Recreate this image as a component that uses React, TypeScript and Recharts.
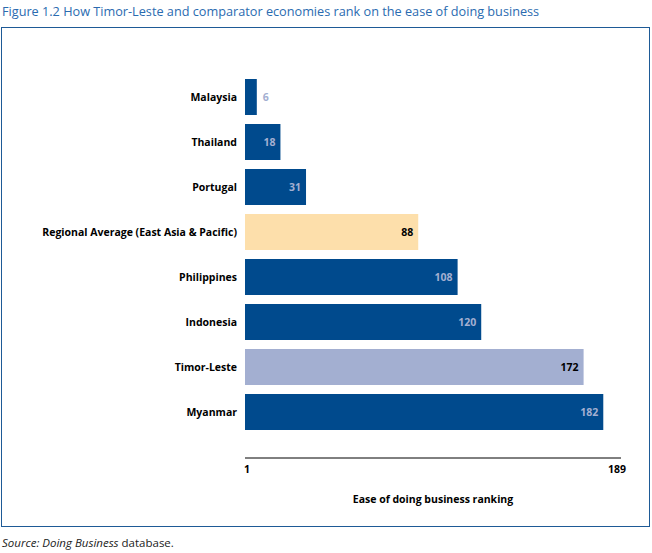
import { BarChart, Bar, XAxis, YAxis, Cell, LabelList } from 'recharts';

const countries = [
  'Malaysia',
  'Thailand',
  'Portugal',
  'Regional Average (East Asia & Pacific)',
  'Philippines',
  'Indonesia',
  'Timor-Leste',
  'Myanmar',
];
const rankings = [6, 18, 31, 88, 108, 120, 172, 182];
const barColors = ['#004a8d', '#004a8d', '#004a8d', '#fddfab', '#004a8d', '#004a8d', '#a3afd1', '#004a8d'];
const labelColors = ['#a3afd1', '#a3afd1', '#a3afd1', '#000000', '#a3afd1', '#a3afd1', '#000000', '#a3afd1'];
const xTicks = [1, 189];

const chartData = countries.map((name, i) => ({ name, rank: rankings[i] }));

const FONT = '"Open Sans", "DejaVu Sans", sans-serif';

// value label sits inside the bar end, or just outside when the bar is too short
const renderValue = (props: any) => {
  const { x, y, width, height, value, index } = props;
  const inside = width > 25;
  return (
    <text
      x={inside ? x + width - 5 : x + width + 6}
      y={y + height / 2}
      dy="0.35em"
      textAnchor={inside ? 'end' : 'start'}
      fill={labelColors[index]}
      fontSize={10.5}
      fontWeight={700}
      fontFamily={FONT}
    >
      {value}
    </text>
  );
};

// single-line category label (the default tick wraps long names)
const CountryTick = (props: any) => {
  const { x, y, payload } = props;
  return (
    <text x={x} y={y} dy="0.35em" textAnchor="end" fill="#000" fontSize={10.5} fontWeight={700} fontFamily={FONT}>
      {payload.value}
    </text>
  );
};

export default function App() {
  return (
    <div style={{ position: 'absolute', left: 0, top: 0, width: 652, height: 553, background: '#fff', fontFamily: FONT }}>
      <div style={{ position: 'absolute', left: 2, top: 2, fontSize: 12.7, color: '#2a6bb0', whiteSpace: 'nowrap' }}>
        Figure 1.2 How Timor-Leste and comparator economies rank on the ease of doing business
      </div>
      <div
        style={{
          position: 'absolute',
          left: 1,
          top: 27,
          width: 647,
          height: 498,
          border: '1.5px solid #1e5a96',
        }}
      />
      <div style={{ position: 'absolute', left: 0, top: 0 }}>
        <BarChart
          width={652}
          height={553}
          data={chartData}
          layout="vertical"
          margin={{ top: 74.5, right: 31, left: 0, bottom: 50 }}
          barCategoryGap={4.5}
        >
          <XAxis
            type="number"
            domain={[0, 191]}
            ticks={xTicks}
            interval={0}
            tickLine={false}
            axisLine={{ stroke: '#000', strokeWidth: 1 }}
            tick={{ fill: '#000', fontSize: 10.5, fontWeight: 700, fontFamily: FONT }}
            height={45}
            label={{
              value: 'Ease of doing business ranking',
              position: 'insideBottom',
              offset: 0,
              fill: '#000',
              fontSize: 10.5,
              fontWeight: 700,
              fontFamily: FONT,
            }}
          />
          <YAxis
            type="category"
            dataKey="name"
            width={245}
            tickLine={false}
            axisLine={false}
            tickSize={0}
            tickMargin={8}
            padding={{ top: 0, bottom: 23.5 }}
            interval={0}
            tick={<CountryTick />}
          />
          <Bar dataKey="rank" isAnimationActive={false}>
            {chartData.map((d, i) => (
              <Cell key={d.name} fill={barColors[i]} />
            ))}
            <LabelList dataKey="rank" content={renderValue} />
          </Bar>
        </BarChart>
      </div>
      <div style={{ position: 'absolute', left: 2, top: 535, fontSize: 11.5, color: '#222', whiteSpace: 'nowrap' }}>
        <i>Source: Doing Business</i> database.
      </div>
    </div>
  );
}
